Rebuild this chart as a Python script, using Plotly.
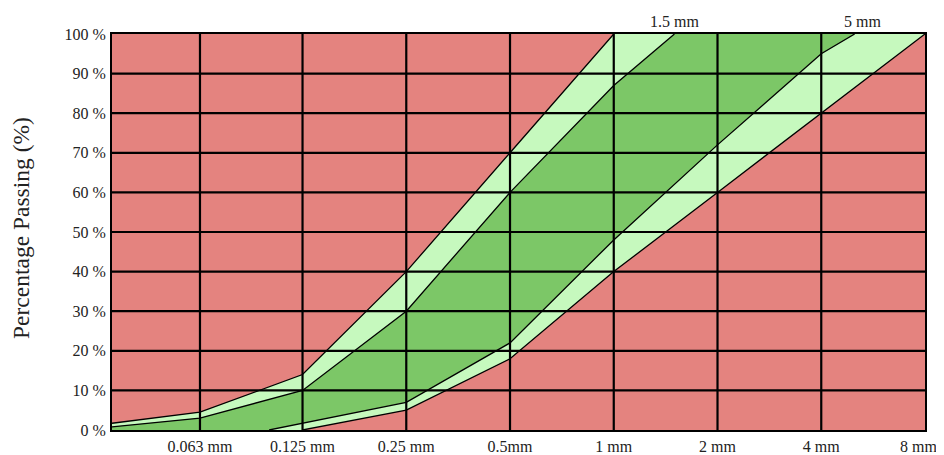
import numpy as np
import plotly.graph_objects as go

# ---- data ----
sieve_mm = [0.063, 0.125, 0.25, 0.5, 1, 2, 4, 8]
sieve_labels = ["0.063 mm", "0.125 mm", "0.25 mm", "0.5mm", "1 mm", "2 mm", "4 mm", "8 mm"]
pct_ticks = [0, 10, 20, 30, 40, 50, 60, 70, 80, 90, 100]
pct_labels = [f"{v} %" for v in pct_ticks]
x_min = 0.035
x_max = 8

upper_outer_x = [0.035, 0.063, 0.125, 0.25, 0.5, 1]
upper_outer_y = [1.7, 4.5, 14, 40, 70, 100]
upper_inner_x = [0.035, 0.063, 0.125, 0.25, 0.5, 1, 1.5]
upper_inner_y = [0.8, 3, 10, 30, 60, 87, 100]
lower_inner_x = [0.1, 0.25, 0.5, 1, 2, 4, 5]
lower_inner_y = [0, 7, 22, 48, 72, 95, 100]
lower_outer_x = [0.125, 0.25, 0.5, 1, 2, 4, 8]
lower_outer_y = [0, 5, 18, 40, 60, 80, 100]

top_marks_mm = [1.5, 5]
top_marks_labels = ["1.5 mm", "5 mm"]

# ---- styles ----
RED = "#E4837F"
LIGHT = "#C6F9BE"
GREEN = "#7CC767"
FONT = "Liberation Serif"
TXT = "#222222"

fig = go.Figure()

# light green envelope (outer)
fig.add_trace(go.Scatter(
    x=upper_outer_x + lower_outer_x[::-1] + [x_min],
    y=upper_outer_y + lower_outer_y[::-1] + [0],
    fill="toself", fillcolor=LIGHT, mode="lines", line=dict(width=0),
    hoverinfo="skip", showlegend=False))
# green envelope (inner)
fig.add_trace(go.Scatter(
    x=upper_inner_x + lower_inner_x[::-1] + [x_min],
    y=upper_inner_y + lower_inner_y[::-1] + [0],
    fill="toself", fillcolor=GREEN, mode="lines", line=dict(width=0),
    hoverinfo="skip", showlegend=False))

# grid lines drawn above the fills
gx, gy = [], []
for v in sieve_mm[:-1]:
    gx += [v, v, None]
    gy += [0, 100, None]
for p in pct_ticks[1:-1]:
    gx += [x_min, x_max, None]
    gy += [p, p, None]
fig.add_trace(go.Scatter(x=gx, y=gy, mode="lines",
                         line=dict(color="black", width=2.2),
                         hoverinfo="skip", showlegend=False))

# boundary curves
for xs, ys in [(upper_outer_x, upper_outer_y), (upper_inner_x, upper_inner_y),
               (lower_inner_x, lower_inner_y), (lower_outer_x, lower_outer_y)]:
    fig.add_trace(go.Scatter(x=xs, y=ys, mode="lines",
                             line=dict(color="black", width=1.3),
                             hoverinfo="skip", showlegend=False))

for v, t in zip(top_marks_mm, top_marks_labels):
    fig.add_annotation(x=np.log10(v), y=1, xref="x", yref="paper",
                       text=t, showarrow=False, yanchor="bottom", yshift=2,
                       xshift=(8 if v == 5 else 0),
                       font=dict(family=FONT, size=16, color=TXT))

# last sieve label sits at the right edge; right-anchored so it stays inside the page
fig.add_annotation(x=np.log10(sieve_mm[-1]), y=0, xref="x", yref="paper",
                   text=sieve_labels[-1], showarrow=False,
                   xanchor="right", yanchor="middle", xshift=14, yshift=-16,
                   font=dict(family=FONT, size=16, color=TXT))

fig.add_annotation(x=-0.112, y=0.51, xref="paper", yref="paper",
                   text="Percentage Passing (%)", textangle=-90, showarrow=False,
                   xanchor="center", yanchor="middle",
                   font=dict(family=FONT, size=23.5, color=TXT))

# the page body has an 8 px margin, so the figure is sized to fit inside it
fig.update_layout(
    width=936, height=447,
    margin=dict(l=104, r=19, t=26, b=25, autoexpand=False),
    paper_bgcolor="white", plot_bgcolor=RED,
    showlegend=False,
    xaxis=dict(type="log", range=[np.log10(x_min), np.log10(x_max)],
               tickmode="array", tickvals=sieve_mm[:-1], ticktext=sieve_labels[:-1],
               showgrid=False, zeroline=False, showline=True, mirror=True,
               linecolor="black", linewidth=2, ticks="", ticklabelstandoff=1,
               automargin=False,
               tickfont=dict(family=FONT, size=16, color=TXT)),
    yaxis=dict(range=[0, 100], tickmode="array", tickvals=pct_ticks, ticktext=pct_labels,
               showgrid=False, zeroline=False, showline=True, mirror=True,
               linecolor="black", linewidth=2, ticks="", ticklabelstandoff=1,
               automargin=False,
               tickfont=dict(family=FONT, size=16, color=TXT)),
)

fig.write_html("out.html",
               post_script="document.documentElement.style.overflow='hidden';"
                           "document.body.style.overflow='hidden';")
